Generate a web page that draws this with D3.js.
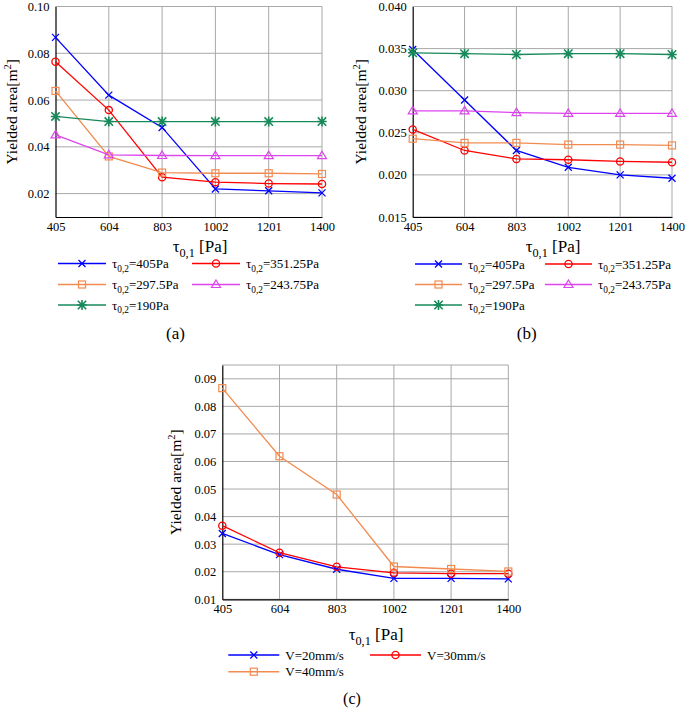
<!DOCTYPE html>
<html><head><meta charset="utf-8">
<script src="https://cdn.jsdelivr.net/npm/d3@7"></script>
<style>
body{margin:0;background:#fff}
text{font-family:"Liberation Serif","Times New Roman",Times,serif;fill:#000}
</style>
</head><body>
<svg id="chart" width="685" height="709"></svg>
<script>
// ---------- data ----------
const xCategories = ["405", "604", "803", "1002", "1201", "1400"];

const legendAB = ["405Pa", "351.25Pa", "297.5Pa", "243.75Pa", "190Pa"];
const a_405    = [0.0868, 0.0621, 0.0483, 0.0220, 0.0212, 0.0203];
const a_351    = [0.0764, 0.0557, 0.0270, 0.0249, 0.0243, 0.0241];
const a_297    = [0.0639, 0.0359, 0.0290, 0.0287, 0.0287, 0.0284];
const a_243    = [0.0451, 0.0366, 0.0363, 0.0362, 0.0362, 0.0362];
const a_190    = [0.0530, 0.0508, 0.0508, 0.0508, 0.0508, 0.0508];

const b_405    = [0.0349, 0.0289, 0.0229, 0.0209, 0.0200, 0.0196];
const b_351    = [0.0254, 0.0229, 0.0219, 0.0218, 0.0216, 0.0215];
const b_297    = [0.0243, 0.0238, 0.0238, 0.0236, 0.0236, 0.0235];
const b_243    = [0.0276, 0.0276, 0.0274, 0.0273, 0.0273, 0.0273];
const b_190    = [0.0345, 0.0344, 0.0343, 0.0344, 0.0344, 0.0343];

const legendC  = ["V=20mm/s", "V=30mm/s", "V=40mm/s"];
const c_20     = [0.0339, 0.0262, 0.0209, 0.0176, 0.0176, 0.0174];
const c_30     = [0.0367, 0.0269, 0.0218, 0.0196, 0.0193, 0.0193];
const c_40     = [0.0866, 0.0619, 0.0480, 0.0219, 0.0210, 0.0201];

const yTicksA = [0.02, 0.04, 0.06, 0.08, 0.10];
const yTicksB = [0.015, 0.020, 0.025, 0.030, 0.035, 0.040];
const yTicksC = [0.01, 0.02, 0.03, 0.04, 0.05, 0.06, 0.07, 0.08, 0.09];

// ---------- styles ----------
const COL = {blue:"#0000ff", red:"#ff0000", orange:"#f28b4f", magenta:"#dd44ee", green:"#17895a"};
const GRID = "#a8a8a8";
const FONT = "Liberation Serif, Times New Roman, serif";

const svg = d3.select("#chart");

function drawMarker(g, type, x, y, color) {
  const s = 3.5;
  if (type === "cross") {
    g.append("path").attr("d", `M${x-s},${y-s}L${x+s},${y+s}M${x-s},${y+s}L${x+s},${y-s}`)
      .attr("stroke", color).attr("stroke-width", 1.3).attr("fill", "none");
  } else if (type === "circle") {
    g.append("circle").attr("cx", x).attr("cy", y).attr("r", 3.6)
      .attr("stroke", color).attr("stroke-width", 1.3).attr("fill", "none");
  } else if (type === "square") {
    g.append("rect").attr("x", x-3.5).attr("y", y-3.5).attr("width", 7).attr("height", 7)
      .attr("stroke", color).attr("stroke-width", 1.2).attr("fill", "none");
  } else if (type === "triangle") {
    g.append("path").attr("d", `M${x},${y-4.5}L${x+4.5},${y+3}L${x-4.5},${y+3}Z`)
      .attr("stroke", color).attr("stroke-width", 1.2).attr("fill", "none");
  } else if (type === "star") {
    const t = 4.2;
    g.append("path").attr("d", `M${x-t},${y-t}L${x+t},${y+t}M${x-t},${y+t}L${x+t},${y-t}M${x},${y-t-0.8}L${x},${y+t+0.8}M${x-t-0.5},${y}L${x+t+0.5},${y}`)
      .attr("stroke", color).attr("stroke-width", 1.6).attr("fill", "none");
  }
}

function subLabel(sel, main, sub, rest, size) {
  sel.append("tspan").text(main);
  sel.append("tspan").attr("font-size", size*0.72).attr("dy", size*0.28).text(sub);
  sel.append("tspan").attr("dy", -size*0.28).text(rest);
}

function drawPanel(p) {
  const g = svg.append("g").attr("font-family", FONT);
  const x = d3.scalePoint().domain(xCategories).range([p.left, p.right]);
  const y = d3.scaleLinear().domain(p.yDomain).range([p.bottom, p.top]);

  // grid
  g.selectAll(".hg").data(p.yTicks).enter().append("line")
    .attr("x1", p.left).attr("x2", p.right)
    .attr("y1", d => y(d)).attr("y2", d => y(d))
    .attr("stroke", GRID).attr("stroke-width", 1);
  g.selectAll(".vg").data(xCategories.slice(1)).enter().append("line")
    .attr("x1", d => x(d)).attr("x2", d => x(d))
    .attr("y1", p.top).attr("y2", p.bottom)
    .attr("stroke", GRID).attr("stroke-width", 1);
  g.append("line").attr("x1", p.left).attr("x2", p.right).attr("y1", p.top).attr("y2", p.top)
    .attr("stroke", GRID);

  // axes
  const yAxis = d3.axisLeft(y).tickValues(p.yTicks).tickSize(0).tickPadding(6).tickFormat(d3.format(p.fmt));
  const ya = g.append("g").attr("transform", `translate(${p.left},0)`).call(yAxis);
  const xAxis = d3.axisBottom(x).tickSize(0).tickPadding(5);
  const xa = g.append("g").attr("transform", `translate(0,${p.bottom})`).call(xAxis);
  [ya, xa].forEach(a => {
    a.attr("font-family", FONT);
    a.select(".domain").attr("stroke", "#000").attr("stroke-width", 1.2);
    a.selectAll("text").attr("font-size", 12.5);
  });

  // y title
  const yt = g.append("text")
    .attr("transform", `translate(${p.yTitleX},${(p.top + p.bottom) / 2}) rotate(-90)`)
    .attr("text-anchor", "middle").attr("font-size", 15.5);
  yt.append("tspan").text("Yielded area[m");
  yt.append("tspan").attr("font-size", 10.5).attr("dy", -6.5).text("2");
  yt.append("tspan").attr("dy", 6.5).text("]");

  // x title
  const xt = g.append("text").attr("x", p.xTitleX).attr("y", p.xTitleY)
    .attr("text-anchor", "middle").attr("font-size", 17);
  subLabel(xt, "τ", "0,1", " [Pa]", 17);

  // series
  const line = d3.line().x((d, i) => x(xCategories[i])).y(d => y(d));
  p.series.forEach(s => {
    g.append("path").datum(s.values).attr("d", line)
      .attr("fill", "none").attr("stroke", s.color).attr("stroke-width", 1.3);
    s.values.forEach((v, i) => drawMarker(g, s.marker, x(xCategories[i]), y(v), s.color));
  });

  // legend
  p.series.forEach((s, i) => {
    const col = i % 2, row = Math.floor(i / 2);
    const lx = p.legX[col], ly = p.legY[row];
    g.append("line").attr("x1", lx).attr("x2", lx + p.legLen).attr("y1", ly).attr("y2", ly)
      .attr("stroke", s.color).attr("stroke-width", 1.5);
    drawMarker(g, s.marker, lx + p.legLen / 2, ly, s.color);
    const t = g.append("text").attr("x", lx + p.legLen + 6).attr("y", ly + 4.5).attr("font-size", 13);
    if (s.sub) subLabel(t, "τ", "0,2", "=" + s.name, 13);
    else t.text(s.name);
  });

  // panel label
  g.append("text").attr("x", p.labelX).attr("y", p.labelY).attr("text-anchor", "middle")
    .attr("font-size", p.labelSize || 17).text(p.label);
}

const seriesAB = (vals) => [
  {name: legendAB[0], values: vals[0], color: COL.blue, marker: "cross", sub: true},
  {name: legendAB[1], values: vals[1], color: COL.red, marker: "circle", sub: true},
  {name: legendAB[2], values: vals[2], color: COL.orange, marker: "square", sub: true},
  {name: legendAB[3], values: vals[3], color: COL.magenta, marker: "triangle", sub: true},
  {name: legendAB[4], values: vals[4], color: COL.green, marker: "star", sub: true}
];

drawPanel({
  left: 55.5, right: 322, top: 6.5, bottom: 217,
  yDomain: [0.01, 0.10], yTicks: yTicksA, fmt: ".2f",
  yTitleX: 17, xTitleX: 200, xTitleY: 252,
  series: seriesAB([a_405, a_351, a_297, a_243, a_190]),
  legX: [58, 192], legY: [263.5, 284.5, 305], legLen: 48,
  label: "(a)", labelX: 175.5, labelY: 339
});

drawPanel({
  left: 412.7, right: 672, top: 6.5, bottom: 217,
  yDomain: [0.015, 0.040], yTicks: yTicksB, fmt: ".3f",
  yTitleX: 366, xTitleX: 553, xTitleY: 252,
  series: seriesAB([b_405, b_351, b_297, b_243, b_190]),
  legX: [415, 545], legY: [264, 284.5, 305], legLen: 47,
  label: "(b)", labelX: 526.7, labelY: 339
});

drawPanel({
  left: 222.3, right: 508.3, top: 365, bottom: 599.3,
  yDomain: [0.01, 0.095], yTicks: yTicksC, fmt: ".2f",
  yTitleX: 181, xTitleX: 376, xTitleY: 640,
  series: [
    {name: legendC[0], values: c_20, color: COL.blue, marker: "cross"},
    {name: legendC[1], values: c_30, color: COL.red, marker: "circle"},
    {name: legendC[2], values: c_40, color: COL.orange, marker: "square"}
  ],
  legX: [228.3, 370], legY: [655, 671.7], legLen: 51,
  label: "(c)", labelX: 352, labelY: 704, labelSize: 16
});
</script>
</body></html>
